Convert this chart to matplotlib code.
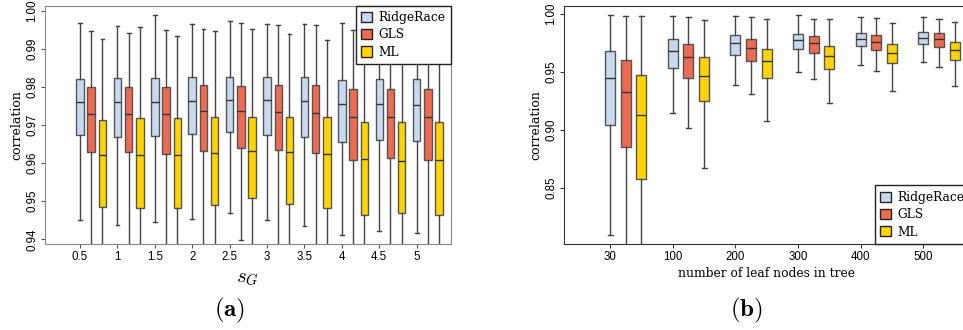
import matplotlib
matplotlib.use("Agg")
import matplotlib.pyplot as plt
from matplotlib.patches import Patch

plt.rcParams["mathtext.fontset"] = "cm"

# colours of the three methods
methods = ["RidgeRace", "GLS", "ML"]
colors = ["#c6d9ee", "#ee6a50", "#ffd400"]

# panel (a): s_G values, stats per method as (low, q1, median, q3, high)
sg_labels = ["0.5", "1", "1.5", "2", "2.5", "3", "3.5", "4", "4.5", "5"]
ridge_a = [
    (0.9451, 0.9673, 0.9761, 0.9821, 0.9968),
    (0.9437, 0.9669, 0.9760, 0.9823, 0.9960),
    (0.9446, 0.9672, 0.9761, 0.9823, 0.9990),
    (0.9453, 0.9676, 0.9763, 0.9826, 0.9967),
    (0.9468, 0.9681, 0.9766, 0.9826, 0.9973),
    (0.9451, 0.9675, 0.9766, 0.9826, 0.9965),
    (0.9434, 0.9670, 0.9763, 0.9826, 0.9965),
    (0.9411, 0.9655, 0.9755, 0.9819, 0.9969),
    (0.9422, 0.9660, 0.9755, 0.9821, 0.9965),
    (0.9417, 0.9659, 0.9753, 0.9821, 0.9960),
]
gls_a = [
    (0.9350, 0.9629, 0.9730, 0.9799, 0.9947),
    (0.9350, 0.9629, 0.9729, 0.9801, 0.9943),
    (0.9350, 0.9623, 0.9730, 0.9801, 0.9949),
    (0.9350, 0.9632, 0.9736, 0.9805, 0.9954),
    (0.9398, 0.9641, 0.9736, 0.9803, 0.9969),
    (0.9350, 0.9634, 0.9735, 0.9805, 0.9963),
    (0.9350, 0.9626, 0.9733, 0.9805, 0.9962),
    (0.9350, 0.9609, 0.9721, 0.9794, 0.9951),
    (0.9350, 0.9613, 0.9721, 0.9796, 0.9950),
    (0.9350, 0.9609, 0.9722, 0.9796, 0.9950),
]
ml_a = [
    (0.9300, 0.9485, 0.9621, 0.9713, 0.9926),
    (0.9300, 0.9482, 0.9621, 0.9718, 0.9957),
    (0.9300, 0.9482, 0.9622, 0.9718, 0.9935),
    (0.9300, 0.9489, 0.9628, 0.9722, 0.9947),
    (0.9300, 0.9508, 0.9631, 0.9722, 0.9953),
    (0.9300, 0.9494, 0.9629, 0.9722, 0.9939),
    (0.9300, 0.9482, 0.9625, 0.9722, 0.9925),
    (0.9300, 0.9463, 0.9610, 0.9708, 0.9935),
    (0.9300, 0.9468, 0.9605, 0.9708, 0.9935),
    (0.9300, 0.9463, 0.9608, 0.9707, 0.9935),
]

# panel (b): number of leaf nodes
leaf_labels = ["30", "100", "200", "300", "400", "500"]
ridge_b = [
    (0.8093, 0.9042, 0.9444, 0.9679, 0.9986),
    (0.9148, 0.9530, 0.9679, 0.9782, 0.9977),
    (0.9389, 0.9642, 0.9745, 0.9814, 0.9977),
    (0.9495, 0.9693, 0.9771, 0.9828, 0.9991),
    (0.9561, 0.9725, 0.9785, 0.9837, 0.9969),
    (0.9584, 0.9739, 0.9794, 0.9842, 0.9971),
]
gls_b = [
    (0.7800, 0.8850, 0.9323, 0.9599, 0.9983),
    (0.9013, 0.9449, 0.9624, 0.9742, 0.9969),
    (0.9306, 0.9596, 0.9702, 0.9785, 0.9974),
    (0.9435, 0.9659, 0.9745, 0.9808, 0.9957),
    (0.9510, 0.9690, 0.9759, 0.9814, 0.9963),
    (0.9544, 0.9716, 0.9779, 0.9831, 0.9954),
]
ml_b = [
    (0.7800, 0.8578, 0.9125, 0.9472, 0.9977),
    (0.8669, 0.9246, 0.9464, 0.9624, 0.9948),
    (0.9079, 0.9449, 0.9593, 0.9699, 0.9951),
    (0.9231, 0.9527, 0.9636, 0.9725, 0.9957),
    (0.9332, 0.9573, 0.9664, 0.9736, 0.9923),
    (0.9375, 0.9604, 0.9687, 0.9753, 0.9931),
]


def draw_boxes(ax, series, offsets, width):
    for vals, off, col in zip(series, offsets, colors):
        stats = [dict(whislo=s[0], q1=s[1], med=s[2], q3=s[3], whishi=s[4], fliers=[])
                 for s in vals]
        pos = [i + off for i in range(len(vals))]
        ax.bxp(stats, positions=pos, widths=width, patch_artist=True,
               showfliers=False, manage_ticks=False,
               capwidths=width * 0.5,
               boxprops=dict(facecolor=col, edgecolor="#555555", linewidth=1.0),
               medianprops=dict(color="#333333", linewidth=1.0),
               whiskerprops=dict(color="#444444", linewidth=1.0),
               capprops=dict(color="#444444", linewidth=1.0))


def add_legend(ax, loc):
    handles = [Patch(facecolor=c, edgecolor="#222222", linewidth=1.0) for c in colors]
    leg = ax.legend(handles, methods, loc=loc, borderaxespad=0, fancybox=False,
                    framealpha=1, edgecolor="#222222", handlelength=0.9,
                    handleheight=0.9, handletextpad=0.5, labelspacing=0.35,
                    borderpad=0.45, prop={"family": "DejaVu Serif", "size": 8.8})
    leg.get_frame().set_linewidth(1.0)
    leg.set_zorder(10)


tick_font = {"family": "Liberation Sans", "size": 8.3}

fig = plt.figure(figsize=(9.63, 3.3), dpi=100)

# ---- panel (a)
ax1 = fig.add_axes([45 / 963, 86 / 330, 405.7 / 963, 238.3 / 330])
draw_boxes(ax1, [ridge_a, gls_a, ml_a], [0, 0.3, 0.6], 0.2)
ax1.set_xlim(-0.936, 9.91)
ax1.set_ylim(0.93876, 1.0014)
ax1.set_xticks(range(len(sg_labels)))
ax1.set_xticklabels(sg_labels, fontdict=tick_font)
yt = [0.94, 0.95, 0.96, 0.97, 0.98, 0.99, 1.00]
ax1.set_yticks(yt)
ax1.set_yticklabels(["%.2f" % v for v in yt], fontdict=tick_font, rotation=90, va="center")
ax1.set_ylabel("correlation", family="DejaVu Serif", size=9, labelpad=2)
ax1.set_xlabel("$s_G$", size=15, labelpad=4)
for sp in ax1.spines.values():
    sp.set_color("#888888")
ax1.tick_params(length=3, color="#555555", pad=2)
add_legend(ax1, "upper right")

# ---- panel (b)
ax2 = fig.add_axes([564 / 963, 86 / 330, 405.7 / 963, 238.3 / 330])
draw_boxes(ax2, [ridge_b, gls_b, ml_b], [0, 0.25, 0.5], 0.16)
ax2.set_xlim(-0.736, 5.74)
ax2.set_ylim(0.8015, 1.0069)
ax2.set_xticks(range(len(leaf_labels)))
ax2.set_xticklabels(leaf_labels, fontdict=tick_font)
yt2 = [0.85, 0.90, 0.95, 1.00]
ax2.set_yticks(yt2)
ax2.set_yticklabels(["%.2f" % v for v in yt2], fontdict=tick_font, rotation=90, va="center")
ax2.set_ylabel("correlation", family="DejaVu Serif", size=9, labelpad=2)
ax2.set_xlabel("number of leaf nodes in tree", family="DejaVu Serif", size=8.8, labelpad=3)
for sp in ax2.spines.values():
    sp.set_color("#333333")
ax2.tick_params(length=3, color="#333333", pad=2)
add_legend(ax2, "lower right")

fig.text(230 / 963, 1 - 310 / 330, r"$\mathbf{(a)}$", size=18, ha="center", va="center")
fig.text(746.7 / 963, 1 - 310 / 330, r"$\mathbf{(b)}$", size=18, ha="center", va="center")

fig.savefig("out.png", dpi=100)
